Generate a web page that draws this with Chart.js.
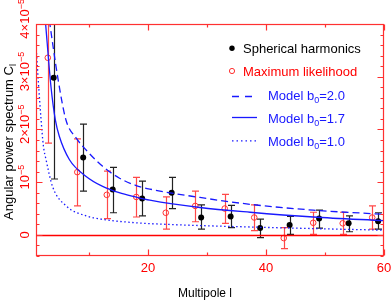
<!DOCTYPE html>
<html>
<head>
<meta charset="utf-8">
<script src="https://cdn.jsdelivr.net/npm/chart.js@4.4.1/dist/chart.umd.min.js"></script>
<style>
  html, body { margin: 0; padding: 0; background: #fff; }
</style>
</head>
<body>
<canvas id="cl" width="392" height="300"></canvas>
<script>
// all C_l values are in units of 1e-5

// spherical harmonics estimate
const shL = [4, 9, 14, 19, 24, 29, 34, 39, 44, 49, 54, 59]
const shCl = [2.98, 1.47, 0.86, 0.69, 0.80, 0.33, 0.35, 0.13, 0.19, 0.31, 0.22, 0.26]
const shLo = [1.06, 0.83, 0.42, 0.36, 0.50, 0.11, 0.14, -0.05, 0.01, 0.13, 0.06, 0.11]
const shHi = [4.90, 2.10, 1.28, 1.02, 1.09, 0.57, 0.56, 0.30, 0.35, 0.47, 0.36, 0.42]

// maximum likelihood estimate
const mlL = [3, 8, 13, 18, 23, 28, 33, 38, 43, 48, 53, 58]
const mlCl = [3.36, 1.19, 0.76, 0.72, 0.42, 0.55, 0.50, 0.33, -0.06, 0.23, 0.22, 0.33]
const mlLo = [1.74, 0.55, 0.31, 0.34, 0.11, 0.25, 0.22, 0.08, -0.26, 0.01, 0.01, 0.11]
const mlHi = [4.98, 1.82, 1.21, 1.09, 0.72, 0.83, 0.77, 0.57, 0.14, 0.43, 0.43, 0.55]

// model curves
const m20L = [3.26, 4.67, 6.08, 7.8, 10, 12.3, 15.1, 17.9, 20.3, 28.8, 37.3, 48, 60]
const m20 = [4.07, 3.0, 2.18, 1.84, 1.55, 1.30, 1.08, 0.94, 0.87, 0.71, 0.58, 0.47, 0.39]
const m17L = [2.58, 3.54, 4.28, 4.95, 6.65, 9.5, 12.3, 15.1, 17.9, 20.3, 28.8, 37.3, 48, 60]
const m17 = [4.07, 2.81, 2.18, 1.87, 1.43, 1.11, 0.92, 0.80, 0.72, 0.66, 0.52, 0.43, 0.34, 0.27]
const m10L = [1.0, 1.4, 1.85, 2.24, 2.7, 3.8, 6.1, 9.5, 12, 17.9, 23.1, 37.3, 48, 60]
const m10 = [3.6, 2.9, 2.2, 1.7, 1.43, 0.92, 0.55, 0.36, 0.30, 0.23, 0.20, 0.15, 0.12, 0.09]

// axis ticks
const xMajor = [20, 40, 60]
const xMinor = [10, 30, 50]
const xLabels = ['20', '40', '60']
const yMajor = [0, 1, 2, 3, 4]
const yMain = ['0', '10', '2\u00d710', '3\u00d710', '4\u00d710']
const yExp = ['', '\u22125', '\u22125', '\u22125', '\u22125']

const RED = '#ff3030'
const BLUE = 'rgb(25,25,255)'
const FONT = '"Liberation Sans", Arial, sans-serif'

const pts = (xs, ys) => xs.map((v, i) => ({x: v, y: ys[i]}))

function drawBars(ctx, x, y, ls, lo, hi, color) {
    ctx.strokeStyle = color
    ctx.lineWidth = 1.2
    ls.forEach((l, i) => {
        const px = Math.round(x.getPixelForValue(l)) + 0.5
        const y1 = y.getPixelForValue(lo[i])
        const y2 = y.getPixelForValue(hi[i])
        ctx.beginPath()
        ctx.moveTo(px, y1); ctx.lineTo(px, y2)
        ctx.moveTo(px - 3.5, y1); ctx.lineTo(px + 3.5, y1)
        ctx.moveTo(px - 3.5, y2); ctx.lineTo(px + 3.5, y2)
        ctx.stroke()
    })
}

const behind = {
    id: 'behind',
    beforeDatasetsDraw(chart) {
        const {ctx, chartArea: a, scales: {x, y}} = chart
        ctx.save()
        ctx.beginPath()
        ctx.rect(a.left, a.top, a.right - a.left, a.bottom - a.top)
        ctx.clip()
        drawBars(ctx, x, y, mlL, mlLo, mlHi, '#ff4848')
        drawBars(ctx, x, y, shL, shLo, shHi, '#222')
        ctx.restore()
    }
}

// draws "main" then a smaller raised/lowered piece after it
function textWithScript(ctx, main, script, x, y, size, shift) {
    ctx.font = size + 'px ' + FONT
    ctx.fillText(main, x, y)
    const w = ctx.measureText(main).width
    ctx.font = Math.round(size * 0.7) + 'px ' + FONT
    ctx.fillText(script, x + w, y + shift)
    return w + ctx.measureText(script).width
}

const frame = {
    id: 'frame',
    afterDraw(chart) {
        const {ctx, chartArea: a, scales: {x, y}} = chart
        ctx.save()
        ctx.strokeStyle = RED
        ctx.lineWidth = 1.2
        const L = Math.round(a.left) + 0.5, R = Math.round(a.right) - 0.5
        const T = Math.round(a.top) + 0.5, B = Math.round(a.bottom) - 0.5
        ctx.strokeRect(L, T, R - L, B - T)

        // zero line
        const y0 = Math.round(y.getPixelForValue(0)) + 0.5
        ctx.strokeStyle = 'red'
        ctx.lineWidth = 1.3
        ctx.beginPath(); ctx.moveTo(L, y0); ctx.lineTo(R, y0); ctx.stroke()
        ctx.strokeStyle = RED
        ctx.lineWidth = 1.2

        ctx.beginPath()
        xMajor.concat(xMinor).forEach(v => {
            const len = xMajor.includes(v) ? 6 : 3
            const px = Math.round(x.getPixelForValue(v)) + 0.5
            ctx.moveTo(px, B); ctx.lineTo(px, B - len)
            ctx.moveTo(px, T); ctx.lineTo(px, T + len)
        })
        for (let k = -2; k <= 20; k++) {
            const v = k * 0.2
            const len = k % 5 === 0 ? 6 : 3
            const py = Math.round(y.getPixelForValue(v)) + 0.5
            ctx.moveTo(L, py); ctx.lineTo(L + len, py)
            ctx.moveTo(R, py); ctx.lineTo(R - len, py)
        }
        ctx.stroke()

        // x tick labels
        ctx.fillStyle = 'red'
        ctx.font = '13px ' + FONT
        ctx.textAlign = 'center'
        ctx.textBaseline = 'alphabetic'
        xMajor.forEach((v, i) => ctx.fillText(xLabels[i], x.getPixelForValue(v), 272))

        // y tick labels, rotated
        yMajor.forEach((v, i) => {
            ctx.save()
            ctx.translate(29, y.getPixelForValue(v))
            ctx.rotate(-Math.PI / 2)
            ctx.textAlign = 'left'
            ctx.font = '13px ' + FONT
            const w = ctx.measureText(yMain[i]).width
            textWithScript(ctx, yMain[i], yExp[i], -w / 2, 0, 13, -5)
            ctx.restore()
        })

        // axis titles
        ctx.fillStyle = '#000'
        ctx.textAlign = 'left'
        ctx.font = '12px ' + FONT
        const xt = 'Multipole l'
        ctx.fillText(xt, 205 - ctx.measureText(xt).width / 2, 297)

        ctx.save()
        ctx.translate(13, 141)
        ctx.rotate(-Math.PI / 2)
        ctx.font = '13px ' + FONT
        const yt = 'Angular power spectrum C'
        const yw = ctx.measureText(yt).width + 4
        textWithScript(ctx, yt, 'l', -yw / 2, 0, 13, 3)
        ctx.restore()

        // legend
        ctx.font = '13px ' + FONT
        ctx.fillStyle = '#000'
        ctx.beginPath(); ctx.arc(232, 48.3, 2.7, 0, 2 * Math.PI); ctx.fill()
        ctx.fillText('Spherical harmonics', 243, 53)

        ctx.strokeStyle = RED
        ctx.lineWidth = 1
        ctx.beginPath(); ctx.arc(232, 71, 2.6, 0, 2 * Math.PI); ctx.stroke()
        ctx.fillStyle = 'red'
        ctx.fillText('Maximum likelihood', 243, 76.3)

        ctx.strokeStyle = BLUE
        ctx.fillStyle = BLUE
        ctx.lineWidth = 1.3
        const rows = [[96.5, [7, 6], 253, '2.0', 99.8], [117.5, [], 257, '1.7', 123], [140.8, [1.5, 3], 257, '1.0', 146.2]]
        rows.forEach(([ly, dash, x2, val, by]) => {
            ctx.setLineDash(dash)
            ctx.beginPath(); ctx.moveTo(232, ly); ctx.lineTo(x2, ly); ctx.stroke()
            ctx.setLineDash([])
            const w = textWithScript(ctx, 'Model b', '0', 268, by, 13, 3)
            ctx.font = '13px ' + FONT
            ctx.fillText('=' + val, 268 + w, by)
        })
        ctx.restore()
    }
}

const line = (data, dash) => ({
    data: data, showLine: true, pointRadius: 0, borderColor: BLUE, borderWidth: 1.3,
    borderDash: dash, cubicInterpolationMode: 'monotone', clip: 0, fill: false
})

new Chart(document.getElementById('cl'), {
    type: 'scatter',
    data: {
        datasets: [
            line(pts(m20L, m20), [7, 4]),
            line(pts(m17L, m17), []),
            line(pts(m10L, m10), [1.5, 2.5]),
            {data: pts(mlL, mlCl), pointRadius: 2.8, pointBorderWidth: 1, borderColor: RED,
             backgroundColor: 'rgba(0,0,0,0)', clip: 0},
            {data: pts(shL, shCl), pointRadius: 3, borderWidth: 0, backgroundColor: '#000',
             borderColor: '#000', clip: 0}
        ]
    },
    options: {
        responsive: false,
        animation: false,
        layout: {padding: {left: 36, right: 8, top: 24, bottom: 44}},
        plugins: {legend: {display: false}, tooltip: {enabled: false}},
        scales: {
            x: {type: 'linear', min: 1, max: 60, display: false},
            y: {type: 'linear', min: -0.4, max: 4, display: false}
        }
    },
    plugins: [behind, frame]
})
</script>
</body>
</html>
